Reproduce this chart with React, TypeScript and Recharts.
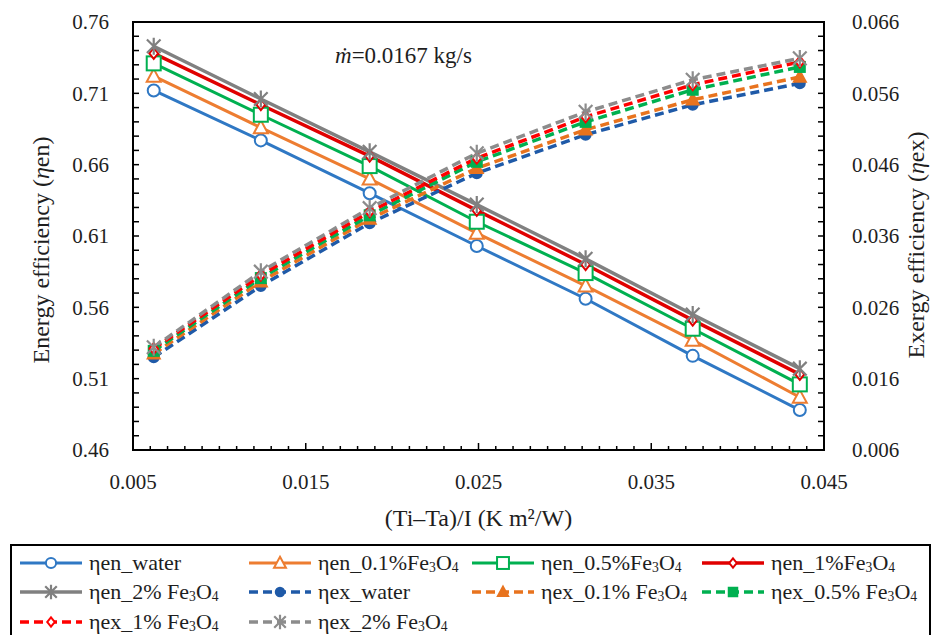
import React from 'react'
import { LineChart, Line, XAxis, YAxis, Legend, ReferenceArea, Label, Customized } from 'recharts'

const FONT = "'Liberation Serif', 'Times New Roman', serif"
const TEXT = '#1e1e1e'

// x: (Ti-Ta)/I
const X_VALUES = [0.0062, 0.0124, 0.0187, 0.0249, 0.0312, 0.0374, 0.0436]

// energy efficiency (left axis)
const EN_WATER = [0.712, 0.677, 0.64, 0.603, 0.566, 0.526, 0.488]
const EN_01 = [0.722, 0.686, 0.65, 0.612, 0.575, 0.537, 0.497]
const EN_05 = [0.731, 0.695, 0.659, 0.62, 0.584, 0.545, 0.506]
const EN_1 = [0.738, 0.702, 0.666, 0.628, 0.59, 0.551, 0.513]
const EN_2 = [0.743, 0.706, 0.669, 0.632, 0.594, 0.555, 0.517]

// exergy efficiency (right axis)
const EX_WATER = [0.019, 0.029, 0.0378, 0.0448, 0.0502, 0.0544, 0.0574]
const EX_01 = [0.0195, 0.0296, 0.0384, 0.0455, 0.0509, 0.0551, 0.0583]
const EX_05 = [0.0199, 0.0301, 0.0389, 0.0464, 0.052, 0.0565, 0.0597]
const EX_1 = [0.0202, 0.0305, 0.0394, 0.0469, 0.0527, 0.0572, 0.0604]
const EX_2 = [0.0204, 0.031, 0.0399, 0.0476, 0.0534, 0.0579, 0.0609]

const X_TICKS = [0.005, 0.015, 0.025, 0.035, 0.045]
const EN_TICKS = [0.46, 0.51, 0.56, 0.61, 0.66, 0.71, 0.76]
const EX_TICKS = [0.006, 0.016, 0.026, 0.036, 0.046, 0.056, 0.066]

const minorTicks = (from: number, to: number, step: number, digits: number) => {
  const out: number[] = []
  const n = Math.round((to - from) / step)
  for (let i = 0; i <= n; i++) out.push(+(from + i * step).toFixed(digits))
  return out
}
const X_MINOR = minorTicks(0.005, 0.045, 0.001, 3)
const EN_MINOR = minorTicks(0.46, 0.76, 0.01, 2)
const EX_MINOR = minorTicks(0.006, 0.066, 0.002, 3)

const PLOT = { left: 133, right: 824, top: 22, bottom: 450 }

type Shape = 'circle' | 'triangle' | 'square' | 'diamond' | 'star'

interface Series {
  key: string
  label: string
  gap: string
  fe: boolean
  axis: 'left' | 'right'
  values: number[]
  color: string
  width: number
  dashed: boolean
  shape: Shape
  size: number
  filled: boolean
}

const SERIES: Series[] = [
  { key: 'enWater', label: 'ηen_water', gap: '', fe: false, axis: 'left', values: EN_WATER, color: '#2F78C4', width: 3, dashed: false, shape: 'circle', size: 12, filled: false },
  { key: 'en01', label: 'ηen_0.1%', gap: '', fe: true, axis: 'left', values: EN_01, color: '#ED7D31', width: 3, dashed: false, shape: 'triangle', size: 14, filled: false },
  { key: 'en05', label: 'ηen_0.5%', gap: '', fe: true, axis: 'left', values: EN_05, color: '#00B050', width: 3, dashed: false, shape: 'square', size: 14, filled: false },
  { key: 'en1', label: 'ηen_1%', gap: '', fe: true, axis: 'left', values: EN_1, color: '#E00000', width: 3.5, dashed: false, shape: 'diamond', size: 11, filled: false },
  { key: 'en2', label: 'ηen_2%', gap: ' ', fe: true, axis: 'left', values: EN_2, color: '#808080', width: 3.5, dashed: false, shape: 'star', size: 17, filled: false },
  { key: 'exWater', label: 'ηex_water', gap: '', fe: false, axis: 'right', values: EX_WATER, color: '#1F5AA8', width: 3.5, dashed: true, shape: 'circle', size: 10, filled: true },
  { key: 'ex01', label: 'ηex_0.1%', gap: ' ', fe: true, axis: 'right', values: EX_01, color: '#E8731E', width: 3.5, dashed: true, shape: 'triangle', size: 12, filled: true },
  { key: 'ex05', label: 'ηex_0.5%', gap: ' ', fe: true, axis: 'right', values: EX_05, color: '#00B050', width: 3.5, dashed: true, shape: 'square', size: 10, filled: true },
  { key: 'ex1', label: 'ηex_1%', gap: ' ', fe: true, axis: 'right', values: EX_1, color: '#FF0000', width: 3.5, dashed: true, shape: 'diamond', size: 11, filled: false },
  { key: 'ex2', label: 'ηex_2%', gap: ' ', fe: true, axis: 'right', values: EX_2, color: '#8C8C8C', width: 3.5, dashed: true, shape: 'star', size: 17, filled: false },
]

const rows = X_VALUES.map((x, i) => {
  const row: Record<string, number> = { x }
  SERIES.forEach((s) => {
    row[s.key] = s.values[i]
  })
  return row
})

interface MarkerProps {
  cx: number
  cy: number
  shape: Shape
  size: number
  color: string
  filled: boolean
}

function Marker({ cx, cy, shape, size, color, filled }: MarkerProps) {
  const h = size / 2
  const fill = filled ? color : '#fff'
  if (cx == null || cy == null) return null
  switch (shape) {
    case 'circle':
      return <circle cx={cx} cy={cy} r={h} fill={fill} stroke={color} strokeWidth={2} />
    case 'triangle':
      return (
        <polygon
          points={`${cx},${cy - h * 1.05} ${cx + h},${cy + h * 0.8} ${cx - h},${cy + h * 0.8}`}
          fill={fill}
          stroke={color}
          strokeWidth={2}
        />
      )
    case 'square':
      return <rect x={cx - h} y={cy - h} width={size} height={size} fill={fill} stroke={color} strokeWidth={2} />
    case 'diamond':
      return (
        <polygon
          points={`${cx},${cy - h} ${cx + h * 0.8},${cy} ${cx},${cy + h} ${cx - h * 0.8},${cy}`}
          fill={fill}
          stroke={color}
          strokeWidth={2}
        />
      )
    default:
      return (
        <path
          d={`M${cx - h * 0.8},${cy - h * 0.8}L${cx + h * 0.8},${cy + h * 0.8}M${cx + h * 0.8},${cy - h * 0.8}L${cx - h * 0.8},${cy + h * 0.8}M${cx},${cy - h}L${cx},${cy + h}`}
          stroke={color}
          strokeWidth={2.2}
          fill="none"
        />
      )
  }
}

const isMajor = (v: number, majors: number[]) => majors.some((m) => Math.abs(m - v) < 1e-9)

const tickText = { fontFamily: FONT, fontSize: 21, fill: TEXT }

function BottomTick({ x, payload }: any) {
  const major = isMajor(payload.value, X_TICKS)
  return (
    <g>
      <line x1={x} x2={x} y1={PLOT.bottom} y2={PLOT.bottom - (major ? 7 : 4)} stroke="#000" strokeWidth={1.5} />
      {major && (
        <text x={x} y={482} dy="0.35em" textAnchor="middle" {...tickText}>
          {payload.value.toFixed(3)}
        </text>
      )}
    </g>
  )
}

function LeftTick({ y, payload }: any) {
  const major = isMajor(payload.value, EN_TICKS)
  return (
    <g>
      <line x1={PLOT.left} x2={PLOT.left + 6} y1={y} y2={y} stroke="#000" strokeWidth={1.5} />
      {major && (
        <text x={109} y={y} dy="0.35em" textAnchor="end" {...tickText}>
          {payload.value.toFixed(2)}
        </text>
      )}
    </g>
  )
}

function RightTick({ y, payload }: any) {
  const major = isMajor(payload.value, EX_TICKS)
  return (
    <g>
      <line x1={PLOT.right} x2={PLOT.right - 6} y1={y} y2={y} stroke="#000" strokeWidth={1.5} />
      {major && (
        <text x={852} y={y} dy="0.35em" textAnchor="start" {...tickText}>
          {payload.value.toFixed(3)}
        </text>
      )}
    </g>
  )
}

function VerticalTitle({ x, y, head, tail }: { x: number; y: number; head: string; tail: string }) {
  return (
    <text
      x={x}
      y={y}
      transform={`rotate(-90, ${x}, ${y})`}
      textAnchor="middle"
      dy="0.35em"
      {...tickText}
      fontSize={24}
    >
      {head}
      <tspan fontStyle="italic">η</tspan>
      {tail}
    </text>
  )
}

function FlowRate() {
  return (
    <text x={335} y={55} dy="0.35em" {...tickText} fontSize={23}>
      <tspan fontStyle="italic">ṁ</tspan>=0.0167 kg/s
    </text>
  )
}

function LegendIcon({ s }: { s: Series }) {
  return (
    <svg width={62} height={20} style={{ display: 'block', overflow: 'visible' }}>
      <line x1={0} x2={62} y1={10} y2={10} stroke={s.color} strokeWidth={s.width} strokeDasharray={s.dashed ? '9 5' : undefined} />
      <Marker cx={31} cy={10} shape={s.shape} size={s.size * 0.85} color={s.color} filled={s.filled} />
    </svg>
  )
}

const LEGEND_COLS = [8, 237, 460, 690]
const LEGEND_ROWS = [17, 46, 76]

function LegendBox() {
  const sub = { fontSize: '0.62em', verticalAlign: '-0.15em', lineHeight: 0 }
  return (
    <div
      style={{
        position: 'relative',
        width: '100%',
        height: '100%',
        boxSizing: 'border-box',
        border: '2px solid #000',
        borderBottom: 'none',
        background: '#fff',
        fontFamily: FONT,
        fontSize: 22,
        color: TEXT,
      }}
    >
      {SERIES.map((s, i) => (
        <div
          key={s.key}
          style={{
            position: 'absolute',
            left: LEGEND_COLS[i % 4],
            top: LEGEND_ROWS[Math.floor(i / 4)] - 14,
            height: 28,
            display: 'flex',
            alignItems: 'center',
            whiteSpace: 'nowrap',
          }}
        >
          <LegendIcon s={s} />
          <span style={{ marginLeft: 7, lineHeight: '28px' }}>
            {s.label}
            {s.fe && (
              <>
                {s.gap}Fe<span style={sub}>3</span>O<span style={sub}>4</span>
              </>
            )}
          </span>
        </div>
      ))}
    </div>
  )
}

export default function App() {
  return (
    <div style={{ position: 'absolute', left: 0, top: 0, width: 937, height: 635, background: '#fff' }}>
      <LineChart width={937} height={635} data={rows} margin={{ top: 22, right: 0, bottom: 0, left: 0 }}>
        <XAxis
          dataKey="x"
          type="number"
          domain={[0.005, 0.045]}
          ticks={X_MINOR}
          interval={0}
          height={185}
          axisLine={false}
          tickLine={false}
          tick={<BottomTick />}
        >
          <Label
            content={() => (
              <text x={(PLOT.left + PLOT.right) / 2} y={518} dy="0.35em" textAnchor="middle" {...tickText} fontSize={24}>
                (Ti–Ta)/I (K m²/W)
              </text>
            )}
          />
        </XAxis>
        <YAxis
          yAxisId="left"
          type="number"
          domain={[0.46, 0.76]}
          ticks={EN_MINOR}
          interval={0}
          width={133}
          axisLine={false}
          tickLine={false}
          tick={<LeftTick />}
        >
          <Label content={() => <VerticalTitle x={41} y={250} head="Energy efficiency (" tail="en)" />} />
        </YAxis>
        <YAxis
          yAxisId="right"
          orientation="right"
          type="number"
          domain={[0.006, 0.066]}
          ticks={EX_MINOR}
          interval={0}
          width={113}
          axisLine={false}
          tickLine={false}
          tick={<RightTick />}
        >
          <Label content={() => <VerticalTitle x={916} y={245} head="Exergy efficiency (" tail="ex)" />} />
        </YAxis>
        <ReferenceArea
          yAxisId="left"
          x1={0.005}
          x2={0.045}
          y1={0.46}
          y2={0.76}
          fill="none"
          fillOpacity={0}
          stroke="#000"
          strokeWidth={2}
        />
        {SERIES.map((s) => (
          <Line
            key={s.key}
            yAxisId={s.axis}
            dataKey={s.key}
            name={s.key}
            type="linear"
            stroke={s.color}
            strokeWidth={s.width}
            strokeDasharray={s.dashed ? '9 5' : undefined}
            dot={(p: any) => (
              <Marker key={`${s.key}-${p.index}`} cx={p.cx} cy={p.cy} shape={s.shape} size={s.size} color={s.color} filled={s.filled} />
            )}
            activeDot={false}
            isAnimationActive={false}
          />
        ))}
        <Customized component={<FlowRate />} />
        <Legend
          layout="vertical"
          align="center"
          verticalAlign="middle"
          content={() => <LegendBox />}
          wrapperStyle={{ left: 10, top: 544, width: 921, height: 91 }}
        />
      </LineChart>
    </div>
  )
}
